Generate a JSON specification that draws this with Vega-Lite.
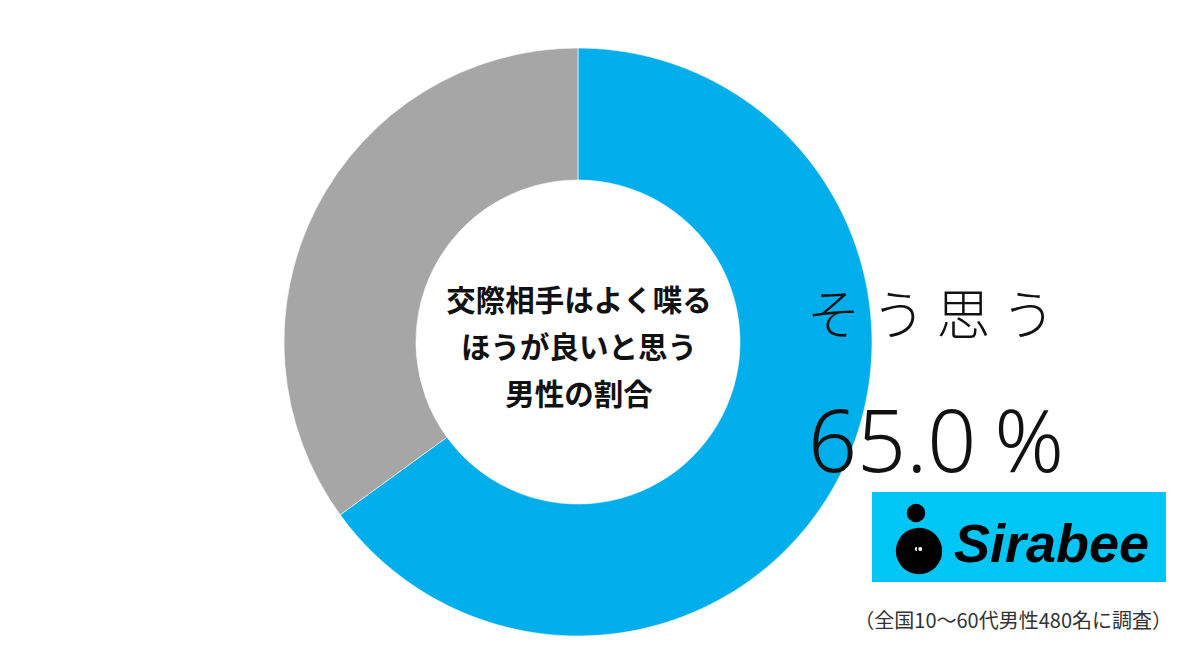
{
  "$schema": "https://vega.github.io/schema/vega-lite/v6.json",
  "width": 1200,
  "height": 653,
  "autosize": {"type": "none"},
  "padding": 0,
  "background": "#ffffff",
  "config": {"view": {"stroke": null}},
  "layer": [
    {
      "data": {"values": [
        {"answer": "そう思う", "pct": 65.0},
        {"answer": "そう思わない", "pct": 35.0}
      ]},
      "mark": {"type": "arc", "x": 578, "y": 342, "outerRadius": 294, "innerRadius": 162, "stroke": "#ffffff", "strokeWidth": 0.6},
      "encoding": {
        "theta": {"field": "pct", "type": "quantitative", "stack": true},
        "order": {"field": "pct", "sort": "descending"},
        "color": {"field": "answer", "type": "nominal", "scale": {"domain": ["そう思う", "そう思わない"], "range": ["#00AEEC", "#A6A6A6"]}, "legend": null}
      }
    },
    {
      "data": {"values": [{"title": ["交際相手はよく喋る", "ほうが良いと思う", "男性の割合"]}]},
      "mark": {"type": "text", "x": 579, "y": 302, "align": "center", "baseline": "middle", "font": "Noto Sans CJK JP", "fontWeight": "bold", "fontSize": 29.5, "lineHeight": 47, "color": "#111111"},
      "encoding": {"text": {"field": "title"}}
    },
    {
      "data": {"values": [{"label": "そ\u2009う\u2009思\u2009う"}]},
      "mark": {"type": "text", "x": 931, "y": 319, "align": "center", "baseline": "middle", "font": "Noto Sans CJK JP", "fontWeight": 300, "fontSize": 54, "color": "#111111"},
      "encoding": {"text": {"field": "label"}}
    },
    {
      "data": {"values": [
        {"answer": "そう思う", "pct": 65.0},
        {"answer": "そう思わない", "pct": 35.0}
      ]},
      "transform": [{"filter": "datum.answer === 'そう思う'"}],
      "mark": {"type": "text", "x": 808, "y": 472, "align": "left", "baseline": "alphabetic", "font": "Noto Sans", "fontWeight": 300, "fontSize": 86, "color": "#111111"},
      "encoding": {"text": {"field": "pct", "type": "quantitative", "format": ".1f"}}
    },
    {
      "data": {"values": [{"unit": "%"}]},
      "mark": {"type": "text", "x": 1064, "y": 472, "align": "right", "baseline": "alphabetic", "font": "Noto Sans", "fontWeight": 300, "fontSize": 86, "color": "#111111"},
      "encoding": {"text": {"field": "unit"}}
    },
    {
      "data": {"values": [{"brand": "Sirabee"}]},
      "mark": {"type": "rect", "x": 872, "x2": 1166, "y": 492, "y2": 582, "color": "#00C6F5"},
      "encoding": {}
    },
    {
      "data": {"values": [{"brand": "Sirabee"}]},
      "mark": {"type": "rule", "x": 914, "y": 515, "x2": 903, "y2": 534, "color": "#000000", "strokeWidth": 6, "strokeCap": "round"},
      "encoding": {}
    },
    {
      "data": {"values": [{"brand": "Sirabee"}]},
      "mark": {"type": "point", "x": 919, "y": 551, "shape": "circle", "size": 2150, "filled": true, "color": "#000000", "opacity": 1},
      "encoding": {}
    },
    {
      "data": {"values": [{"brand": "Sirabee"}]},
      "mark": {"type": "point", "x": 916, "y": 513, "shape": "circle", "size": 340, "filled": true, "color": "#000000", "opacity": 1},
      "encoding": {}
    },
    {
      "data": {"values": [{"eye": "l"}, {"eye": "r"}]},
      "mark": {"type": "point", "y": 549, "shape": "circle", "size": 30, "filled": true, "fill": "#ffffff", "stroke": "#000000", "strokeWidth": 1.5, "opacity": 1},
      "encoding": {"x": {"field": "eye", "type": "nominal", "scale": {"domain": ["l", "r"], "range": [915, 922]}, "axis": null}}
    },
    {
      "data": {"values": [{"brand": "Sirabee"}]},
      "mark": {"type": "text", "x": 954, "y": 562, "align": "left", "baseline": "alphabetic", "font": "Liberation Sans", "fontWeight": "bold", "fontStyle": "italic", "fontSize": 54, "color": "#000000"},
      "encoding": {"text": {"field": "brand"}}
    },
    {
      "data": {"values": [{"note": "（全国10〜60代男性480名に調査）"}]},
      "mark": {"type": "text", "x": 1172, "y": 622, "align": "right", "baseline": "middle", "font": "Noto Sans CJK JP", "fontSize": 20, "color": "#333333"},
      "encoding": {"text": {"field": "note"}}
    }
  ]
}
